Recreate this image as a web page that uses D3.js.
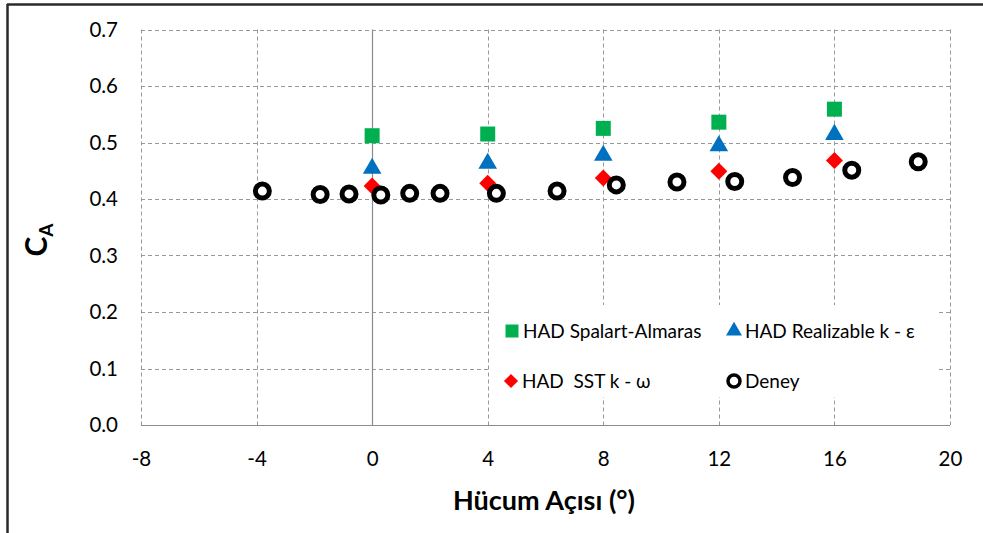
<!DOCTYPE html>
<html>
<head>
<meta charset="utf-8">
<script src="https://cdn.jsdelivr.net/npm/d3@7"></script>
<style>
  html, body { margin: 0; padding: 0; background: #fff; }
  svg { display: block; }
  text { font-family: Lato, "Open Sans", sans-serif; fill: #000; }
</style>
</head>
<body>
<svg id="chart" width="983" height="533"></svg>
<script>
// Angle of attack (degrees) for the CFD runs
const cfdAngles = [0, 4, 8, 12, 16];
// Axial force coefficient from each turbulence model
const spalartAllmaras = [0.512, 0.515, 0.525, 0.536, 0.559];
const realizableKe    = [0.454, 0.463, 0.477, 0.494, 0.514];
const sstKw           = [0.423, 0.428, 0.437, 0.449, 0.468];
// Wind-tunnel measurements
const expAngles = [-3.8, -1.8, -0.8, 0.3, 1.3, 2.35, 4.3, 6.4, 8.45, 10.55, 12.55, 14.55, 16.6, 18.9];
const expValues = [0.414, 0.408, 0.409, 0.407, 0.410, 0.410, 0.410, 0.414, 0.425, 0.430, 0.431, 0.438, 0.451, 0.466];
// Axis ticks
const xTicks = [-8, -4, 0, 4, 8, 12, 16, 20];
const yTicks = [0, 0.1, 0.2, 0.3, 0.4, 0.5, 0.6, 0.7];

const svg = d3.select("#chart");
const plot = { left: 141, right: 950, top: 29.5, bottom: 425 };

const x = d3.scaleLinear().domain([-8, 20]).range([plot.left, plot.right]);
const y = d3.scaleLinear().domain([0, 0.7]).range([plot.bottom, plot.top]);

// Outer frame (top and left edges)
svg.append("line").attr("x1", 7).attr("x2", 983).attr("y1", 4.5).attr("y2", 4.5)
  .attr("stroke", "#2a2a2a").attr("stroke-width", 2.5);
svg.append("line").attr("x1", 7.5).attr("x2", 7.5).attr("y1", 4).attr("y2", 533)
  .attr("stroke", "#2a2a2a").attr("stroke-width", 2.5);

// Grid
const grid = svg.append("g");
grid.selectAll("line.h").data(yTicks.filter(d => d > 0)).join("line")
  .attr("x1", plot.left).attr("x2", plot.right)
  .attr("y1", d => Math.round(y(d)) + 0.5).attr("y2", d => Math.round(y(d)) + 0.5)
  .attr("stroke", "#999").attr("stroke-width", 1).attr("stroke-dasharray", "4,3");
grid.selectAll("line.v").data(xTicks.filter(d => d !== 0)).join("line")
  .attr("x1", d => Math.round(x(d)) + 0.5).attr("x2", d => Math.round(x(d)) + 0.5)
  .attr("y1", plot.top).attr("y2", plot.bottom)
  .attr("stroke", "#999").attr("stroke-width", 1).attr("stroke-dasharray", "4,3");

// Axis lines: horizontal at C=0, vertical at angle 0
svg.append("line").attr("x1", plot.left).attr("x2", plot.right)
  .attr("y1", Math.round(y(0)) + 0.5).attr("y2", Math.round(y(0)) + 0.5)
  .attr("stroke", "#8c8c8c").attr("stroke-width", 1.2);
svg.append("line").attr("x1", Math.round(x(0)) + 0.5).attr("x2", Math.round(x(0)) + 0.5)
  .attr("y1", plot.top).attr("y2", plot.bottom)
  .attr("stroke", "#8c8c8c").attr("stroke-width", 1.2);

// Tick labels via d3 axes (lines hidden); plain hyphen for negatives
const xAxis = svg.append("g").attr("transform", `translate(0,${plot.bottom})`)
  .call(d3.axisBottom(x).tickValues(xTicks).tickSize(0).tickPadding(26).tickFormat(d => String(d)));
const yAxis = svg.append("g").attr("transform", `translate(${plot.left},0)`)
  .call(d3.axisLeft(y).tickValues(yTicks).tickSize(0).tickPadding(23).tickFormat(d => d.toFixed(1)));
[xAxis, yAxis].forEach(a => {
  a.select(".domain").remove();
  a.selectAll("text").style("font-family", "Lato, sans-serif").style("font-size", "20.5px").attr("fill", "#000");
});

// Axis titles
svg.append("text").attr("x", 544).attr("y", 510).attr("text-anchor", "middle")
  .style("font-size", "27px").style("font-weight", "bold").text("Hücum Açısı (°)");
const yt = svg.append("text").attr("transform", "translate(47,240) rotate(-90)")
  .attr("text-anchor", "middle").style("font-weight", "bold");
yt.append("tspan").style("font-size", "30px").text("C");
yt.append("tspan").style("font-size", "19px").attr("dy", 6).text("A");

// Marker builders
const sym = {
  square:   d3.symbol().type(d3.symbolSquare).size(15 * 15),
  triangle: d3.symbol().type(d3.symbolTriangle).size(150),
  diamond:  d3.symbol().type(d3.symbolSquare).size(12 * 12)
};

function drawSeries(angles, values, kind, color) {
  const g = svg.append("g");
  g.selectAll("path").data(angles.map((a, i) => [a, values[i]])).join("path")
    .attr("d", sym[kind])
    .attr("transform", d => `translate(${x(d[0])},${y(d[1])})${kind === "diamond" ? " rotate(45)" : ""}`)
    .attr("fill", color);
}

drawSeries(cfdAngles, spalartAllmaras, "square", "#00B050");
drawSeries(cfdAngles, realizableKe, "triangle", "#0070C0");
drawSeries(cfdAngles, sstKw, "diamond", "#FF0000");

svg.append("g").selectAll("circle").data(expAngles.map((a, i) => [a, expValues[i]])).join("circle")
  .attr("cx", d => x(d[0])).attr("cy", d => y(d[1])).attr("r", 7)
  .attr("fill", "#fff").attr("stroke", "#000").attr("stroke-width", 5);

// Legend
const legend = svg.append("g");
legend.append("rect").attr("x", 490).attr("y", 305).attr("width", 447).attr("height", 92).attr("fill", "#fff");
const items = [
  { label: "HAD Spalart-Almaras", kind: "square", color: "#00B050", lx: 512, ly: 331 },
  { label: "HAD Realizable k - ε", kind: "triangle", color: "#0070C0", lx: 734, ly: 331 },
  { label: "HAD  SST k - ω", kind: "diamond", color: "#FF0000", lx: 511, ly: 381 },
  { label: "Deney", kind: "circle", color: "#000", lx: 734, ly: 381 }
];
items.forEach(it => {
  if (it.kind === "circle") {
    legend.append("circle").attr("cx", it.lx).attr("cy", it.ly).attr("r", 6)
      .attr("fill", "#fff").attr("stroke", "#000").attr("stroke-width", 3.5);
  } else {
    const s = it.kind === "square" ? d3.symbol().type(d3.symbolSquare).size(13 * 13)
      : it.kind === "triangle" ? d3.symbol().type(d3.symbolTriangle).size(110)
      : d3.symbol().type(d3.symbolSquare).size(10 * 10);
    legend.append("path").attr("d", s)
      .attr("transform", `translate(${it.lx},${it.ly})${it.kind === "diamond" ? " rotate(45)" : ""}`)
      .attr("fill", it.color);
  }
  legend.append("text").attr("x", it.lx + 11).attr("y", it.ly + 7)
    .style("font-size", "19px").attr("xml:space", "preserve").text(it.label);
});
</script>
</body>
</html>
